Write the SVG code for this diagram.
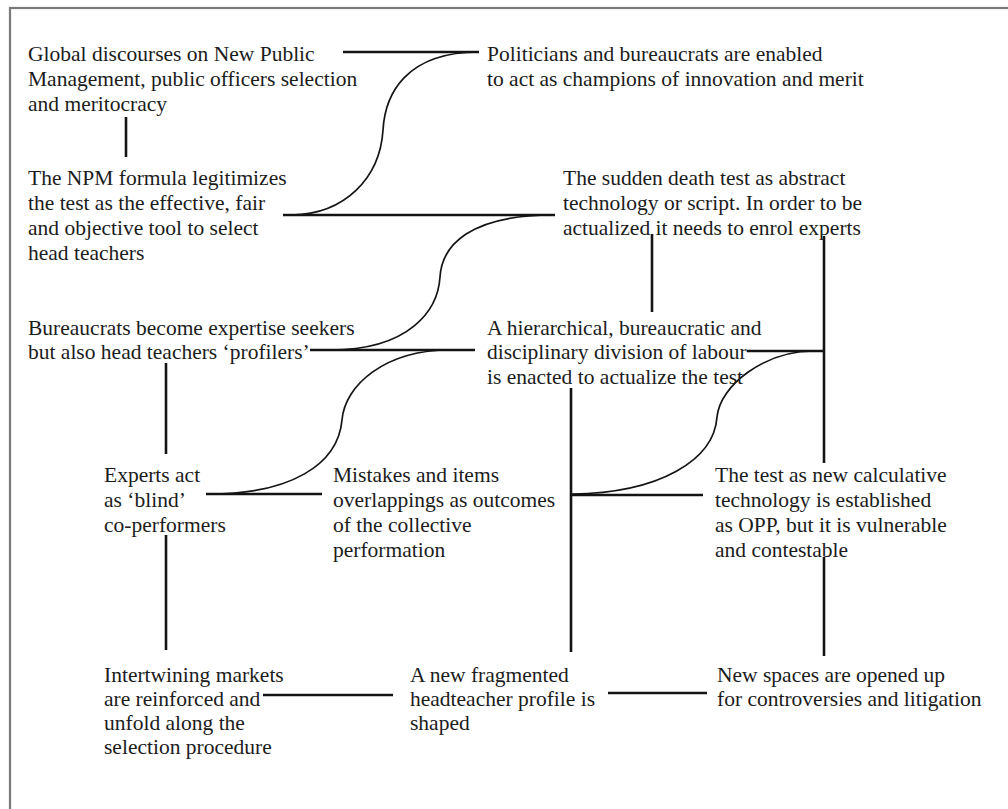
<svg xmlns="http://www.w3.org/2000/svg" width="1008" height="809" viewBox="0 0 1008 809">
<style>
text{font-family:"Liberation Serif","Times New Roman",serif;font-size:21.5px;fill:#1c1c1c}
.ln{stroke:#141414;stroke-width:2.6;fill:none}
.cv{stroke:#141414;stroke-width:1.7;fill:none}
</style>
<rect x="0" y="0" width="1008" height="809" fill="#ffffff"/>
<rect x="10" y="8" width="1100" height="900" fill="none" stroke="#7a7a7a" stroke-width="2.2"/>
<g id="connectors">
<line class="ln" x1="343" y1="52" x2="479" y2="52"/>
<path class="cv" d="M479,52 C405,52 385,95 383,130 C380,178 345,214 292,215"/>
<line class="ln" x1="126" y1="117" x2="126" y2="157"/>
<line class="ln" x1="283" y1="215" x2="555" y2="215"/>
<path class="cv" d="M553,215 C470,215 442,245 440,277 C438,310 410,350 330,350"/>
<line class="ln" x1="652" y1="234" x2="652" y2="312"/>
<line class="ln" x1="824" y1="236" x2="824" y2="463"/>
<line class="ln" x1="310" y1="350" x2="475" y2="350"/>
<path class="cv" d="M450,350 C385,350 345,385 342,420 C338,465 290,494 210,494"/>
<line class="ln" x1="747" y1="351" x2="824" y2="351"/>
<path class="cv" d="M814,351 C765,351 720,385 717,417 C714,460 660,493 572,494"/>
<line class="ln" x1="166" y1="363" x2="166" y2="454"/>
<line class="ln" x1="206" y1="494" x2="322" y2="494"/>
<line class="ln" x1="571" y1="388" x2="571" y2="652"/>
<line class="ln" x1="571" y1="495" x2="703" y2="495"/>
<line class="ln" x1="824" y1="557" x2="824" y2="656"/>
<line class="ln" x1="166" y1="535" x2="166" y2="650"/>
<line class="ln" x1="263" y1="695" x2="393" y2="695"/>
<line class="ln" x1="608" y1="693" x2="707" y2="693"/>
</g>
<g id="n1"><text x="28" y="61">Global discourses on New Public</text><text x="28" y="86">Management, public officers selection</text><text x="28" y="111">and meritocracy</text></g>
<g id="n2"><text x="28" y="185">The NPM formula legitimizes</text><text x="28" y="210">the test as the effective, fair</text><text x="28" y="235">and objective tool to select</text><text x="28" y="260">head teachers</text></g>
<g id="n3"><text x="487" y="61">Politicians and bureaucrats are enabled</text><text x="487" y="86">to act as champions of innovation and merit</text></g>
<g id="n4"><text x="563" y="185">The sudden death test as abstract</text><text x="563" y="210">technology or script. In order to be</text><text x="563" y="235">actualized it needs to enrol experts</text></g>
<g id="n5"><text x="28" y="335">Bureaucrats become expertise seekers</text><text x="28" y="359">but also head teachers ‘profilers’</text></g>
<g id="n6"><text x="487" y="335">A hierarchical, bureaucratic and</text><text x="487" y="359">disciplinary division of labour</text><text x="487" y="384">is enacted to actualize the test</text></g>
<g id="n7"><text x="104" y="482">Experts act</text><text x="104" y="507">as ‘blind’</text><text x="104" y="532">co-performers</text></g>
<g id="n8"><text x="333" y="482">Mistakes and items</text><text x="333" y="507">overlappings as outcomes</text><text x="333" y="532">of the collective</text><text x="333" y="557">performation</text></g>
<g id="n9"><text x="715" y="482">The test as new calculative</text><text x="715" y="507">technology is established</text><text x="715" y="532">as OPP, but it is vulnerable</text><text x="715" y="557">and contestable</text></g>
<g id="n10"><text x="104" y="682">Intertwining markets</text><text x="104" y="706">are reinforced and</text><text x="104" y="730">unfold along the</text><text x="104" y="754">selection procedure</text></g>
<g id="n11"><text x="410" y="682">A new fragmented</text><text x="410" y="706">headteacher profile is</text><text x="410" y="730">shaped</text></g>
<g id="n12"><text x="717" y="682">New spaces are opened up</text><text x="717" y="706">for controversies and litigation</text></g>
</svg>
